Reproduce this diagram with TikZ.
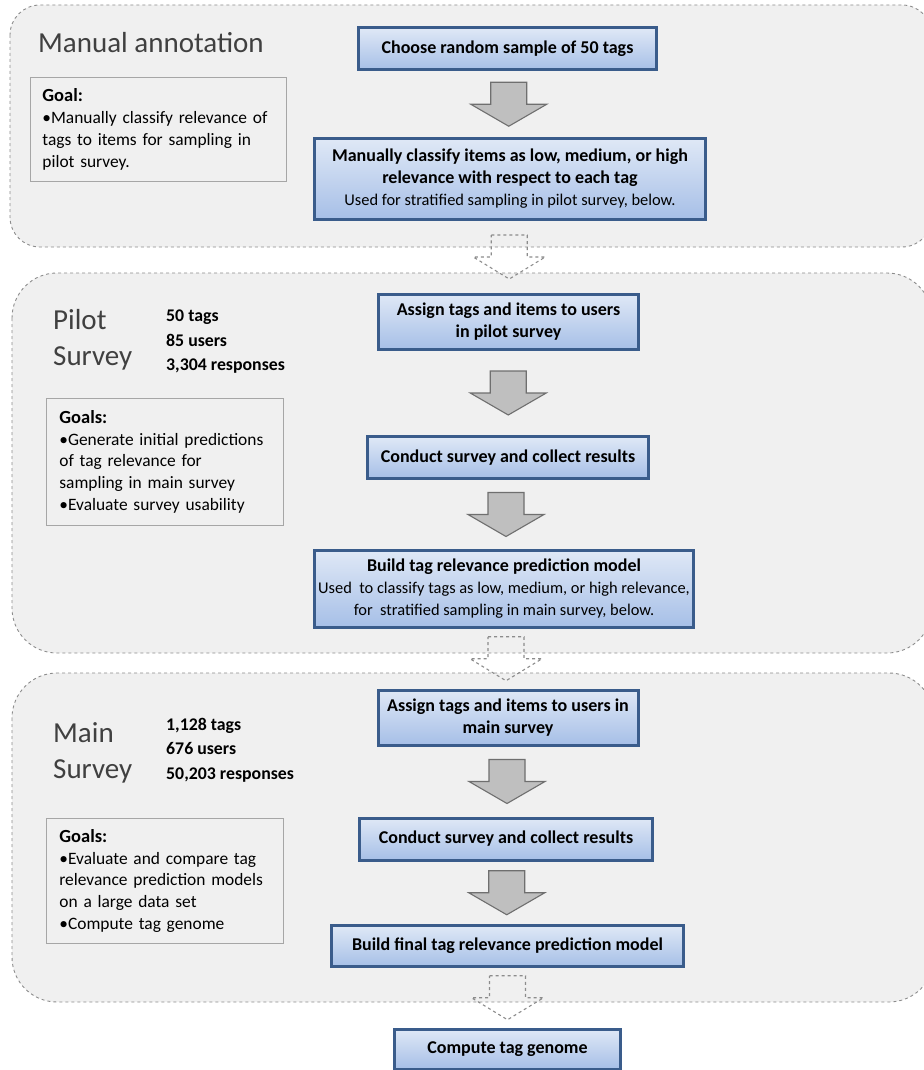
\documentclass[tikz,border=0pt]{standalone}
\usepackage{fontspec}
\setmainfont{Carlito}
\usetikzlibrary{calc}

\definecolor{panelgray}{HTML}{F0F0F0}
\definecolor{paneledge}{HTML}{8C8C8C}
\definecolor{goaledge}{HTML}{A6A6A6}
\definecolor{stepedge}{HTML}{3A5C8B}
\definecolor{steptop}{HTML}{DFE8F6}
\definecolor{stepbottom}{HTML}{A6BFE7}
\definecolor{arrowfill}{HTML}{BFBFBF}
\definecolor{arrowedge}{HTML}{6F6F6F}
\definecolor{titlegray}{HTML}{404040}

\newcommand{\notefont}{\fontsize{16.4}{19.5}\selectfont\mdseries}
\newcommand{\goalhead}{\bfseries\fontsize{18.5}{22}\selectfont}

\tikzset{
  panel/.style={draw=paneledge, dashed, fill=panelgray, line width=0.9pt},
  stepbox/.style={draw=stepedge, line width=3pt, top color=steptop, bottom color=stepbottom,
    font=\fontsize{18}{22}\selectfont\bfseries, align=center, inner sep=0pt},
  goalbox/.style={draw=goaledge, line width=0.8pt, align=left, anchor=north west,
    font=\fontsize{17.4}{21.8}\selectfont, inner xsep=12pt},
  phase/.style={text=titlegray, font=\fontsize{29}{36}\selectfont, align=left, anchor=north west, inner sep=0pt},
  counts/.style={font=\fontsize{17.8}{24.5}\selectfont\bfseries, align=left, anchor=north west, inner sep=0pt},
  pics/grayarrow/.style={code={
    \draw[fill=arrowfill, draw=arrowedge, line width=1.1pt, line join=miter]
      (-18,-22) -- (18,-22) -- (18,0) -- (38,0) -- (0,22) -- (-38,0) -- (-18,0) -- cycle;}},
  pics/gaparrow/.style={code={
    \draw[draw=paneledge, dashed, line width=1.1pt]
      (-18,-22) -- (18,-22) -- (18,0) -- (36,0) -- (0,22) -- (-36,0) -- (-18,0) -- cycle;}}
}

\begin{document}
\begin{tikzpicture}[x=1pt, y=-1pt]
  \useasboundingbox (0,0) rectangle (923,1070);

  % the three phases
  \draw[panel, rounded corners=30pt] (10,5) rectangle (932,247);
  \draw[panel, rounded corners=45pt] (12,273) rectangle (932,653);
  \draw[panel, rounded corners=45pt] (12,673) rectangle (934,1002);

  \node[phase] (manual) at (38,32) {Manual annotation};
  \node[goalbox, minimum width=256pt, minimum height=104pt, text width=232pt] (goal1) at (30,77)
    {{\goalhead Goal:}\\•Manually classify relevance of\\tags to items for sampling in\\pilot survey.};

  \node[phase] (pilot) at (53,309) {Pilot\\Survey};
  \node[counts] (pilotcounts) at (166,310) {50 tags\\85 users\\3,304 responses};
  \node[goalbox, minimum width=237pt, minimum height=127pt, text width=211pt, inner xsep=13pt] (goal2) at (46,398)
    {{\goalhead Goals:}\\•Generate initial predictions\\of tag relevance for\\sampling in main survey\\•Evaluate survey usability};

  \node[phase] (main) at (53,722) {Main\\Survey};
  \node[counts] (maincounts) at (166,718) {1,128 tags\\676 users\\50,203 responses};
  \node[goalbox, minimum width=237pt, minimum height=125pt, text width=211pt, inner xsep=13pt] (goal3) at (46,818)
    {{\goalhead Goals:}\\•Evaluate and compare tag\\relevance prediction models\\on a large data set\\•Compute tag genome};

  % steps
  \node[stepbox, minimum width=298pt, minimum height=42pt] (sample) at (507.5,49) {Choose random sample of 50 tags};
  \node[stepbox, minimum width=391pt, minimum height=81pt] (classify) at (510,179)
    {Manually classify items as low, medium, or high\\relevance with respect to each tag\\{\notefont Used for stratified sampling in pilot survey, below.}};
  \node[stepbox, minimum width=260pt, minimum height=55pt] (assignpilot) at (508.5,322) {Assign tags and items to users\\in pilot survey};
  \node[stepbox, minimum width=281pt, minimum height=42pt] (conductpilot) at (508,457.5) {Conduct survey and collect results};
  \node[stepbox, minimum width=379pt, minimum height=77pt] (model) at (504,589)
    {Build tag relevance prediction model\\{\notefont Used~ to classify tags as low, medium, or high relevance,}\\{\notefont for~ stratified sampling in main survey, below.}};
  \node[stepbox, minimum width=260pt, minimum height=55pt] (assignmain) at (508,717.5) {Assign tags and items to users in\\main survey};
  \node[stepbox, minimum width=293pt, minimum height=42pt] (conductmain) at (506,839) {Conduct survey and collect results};
  \node[stepbox, minimum width=352pt, minimum height=41pt] (finalmodel) at (507.5,946) {Build final tag relevance prediction model};
  \node[stepbox, minimum width=226pt, minimum height=40pt] (genome) at (507.5,1049) {Compute tag genome};

  % arrows
  \pic at ($(sample.south)!0.5!(classify.north)$) {grayarrow};
  \pic at ($(classify.south)!0.5!(assignpilot.north)$) {gaparrow};
  \pic at ($(assignpilot.south)!0.5!(conductpilot.north)$) {grayarrow};
  \pic at ($(conductpilot.south)!0.5!(model.north)$) {grayarrow};
  \pic at ($(model.south)!0.5!(assignmain.north)$) {gaparrow};
  \pic at ($(assignmain.south)!0.5!(conductmain.north)$) {grayarrow};
  \pic at ($(conductmain.south)!0.5!(finalmodel.north)$) {grayarrow};
  \pic at ($(finalmodel.south)!0.5!(genome.north)$) {gaparrow};
\end{tikzpicture}
\end{document}
